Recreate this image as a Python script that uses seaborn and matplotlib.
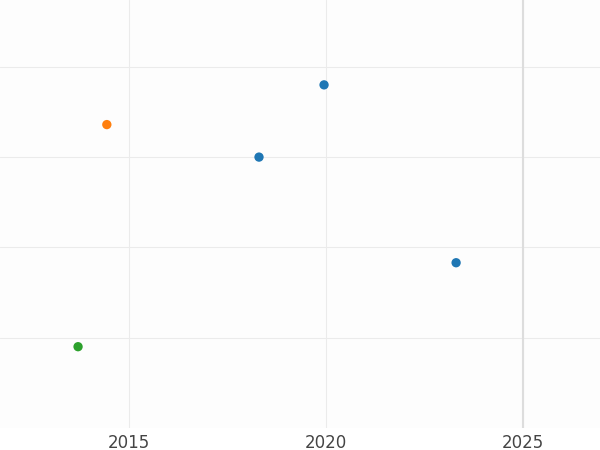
import matplotlib
matplotlib.use("Agg")
import matplotlib.pyplot as plt
import seaborn as sns
import pandas as pd

# values
years = [2014.44, 2013.71, 2018.30, 2019.95, 2023.30]
values = [3.36, 0.90, 3.00, 3.80, 1.83]
groups = ["b", "c", "a", "a", "a"]
palette = {"a": "#1f77b4", "b": "#ff7f0e", "c": "#2ca02c"}

df = pd.DataFrame({"year": years, "value": values, "group": groups})

sns.set_style("white")
fig = plt.figure(figsize=(6, 4.5), dpi=100)
ax = fig.add_axes([0, 0.049, 1, 0.951])
ax.set_facecolor("#fdfdfd")

sns.scatterplot(data=df, x="year", y="value", hue="group", palette=palette,
                s=45, edgecolor="none", legend=False, ax=ax, zorder=3)

ax.set_xlim(2011.73, 2026.95)
ax.set_ylim(0, 4.74)
ax.set_xticks([2015, 2020, 2025])
ax.set_yticks([1, 2, 3, 4])
ax.set_yticklabels([])
ax.grid(True, color="#ebebeb", linewidth=0.8)
ax.axvline(2025, color="#dddddd", linewidth=1.5, zorder=1)
ax.tick_params(axis="x", length=0, labelsize=12, labelcolor="#444444", pad=4)
ax.tick_params(axis="y", length=0)
ax.set_xlabel("")
ax.set_ylabel("")
for s in ax.spines.values():
    s.set_visible(False)

fig.savefig("out.png", dpi=100)
